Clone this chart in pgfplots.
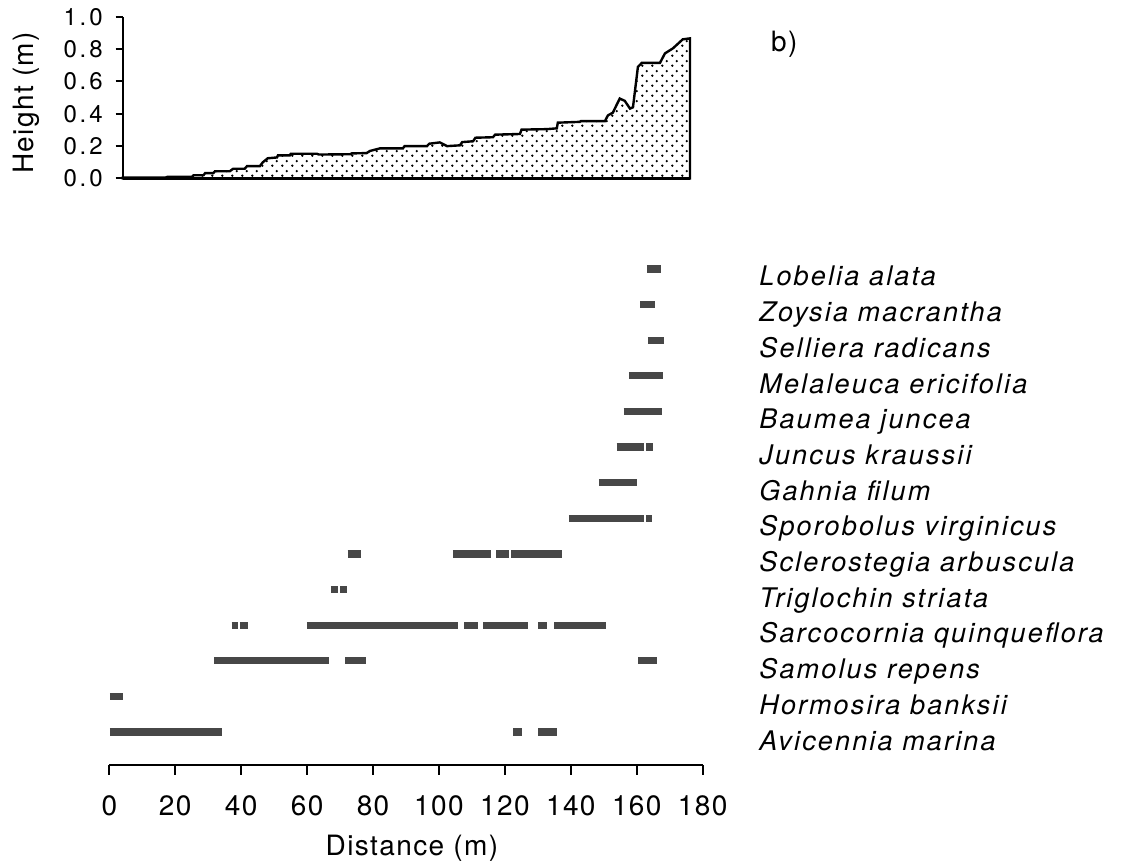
\documentclass[border=0pt]{standalone}
\usepackage{fontspec}
\setmainfont{TeX Gyre Heros}[LetterSpace=5]
\newfontfamily\spfont{TeX Gyre Heros}[LetterSpace=8]
\newfontfamily\topfont{TeX Gyre Heros}[LetterSpace=12]
\usepackage{pgfplots}
\pgfplotsset{compat=1.18}
\usetikzlibrary{patterns.meta}
\tikzdeclarepattern{
  name=sparsedots,
  type=uncolored,
  bounding box={(0pt,0pt) and (5pt,5pt)},
  tile size={(5pt,5pt)},
  code={
    \fill (1.25pt,1.25pt) circle (0.7pt);
    \fill (3.75pt,3.75pt) circle (0.7pt);
  }
}
\pgfplotsset{rng/.style={no markers, color=black!72, line width=3.6pt, line cap=butt}}
\begin{document}
\begin{tikzpicture}
\path[use as bounding box] (0,0) rectangle (563pt,434pt);
% ---------------- top profile ----------------
\begin{axis}[
  at={(61.35pt,344.75pt)}, anchor=south west, scale only axis,
  width=283.65pt, height=80.9pt,
  xmin=0, xmax=172.1, ymin=0, ymax=1,
  axis x line=bottom, axis y line=left,
  axis line style={-, line width=1.1pt},
  xtick=\empty, ytick={0,0.2,0.4,0.6,0.8,1.0},
  tick align=outside, major tick length=3.5pt,
  tick style={line width=1pt, black},
  /pgf/number format/assume math mode=true,
  /pgf/number format/fixed, /pgf/number format/fixed zerofill, /pgf/number format/precision=1,
  yticklabel style={font=\topfont\fontsize{12}{14}\selectfont, xshift=-3pt},
  clip=false,
]
\addplot[draw=black, line width=1.2pt, pattern=sparsedots, pattern color=black] coordinates {
(0,0.005) (13,0.005) (13.5,0.01) (21,0.01) (21.5,0.02) (24.5,0.02) (25,0.033) (27.5,0.033)
(28,0.045) (32.5,0.045) (33.5,0.06) (37,0.06) (37.7,0.076) (41.6,0.076) (42.5,0.10) (44,0.125)
(46.8,0.13) (47.1,0.143) (50.7,0.143) (51,0.153) (58.9,0.153) (59.5,0.148) (69,0.15) (69.5,0.155)
(74,0.157) (75,0.17) (78,0.186) (85,0.186) (85.5,0.2) (92.3,0.2) (93,0.215) (96.2,0.223)
(98.4,0.2) (102.3,0.205) (103,0.225) (106.3,0.23) (107,0.252) (112.3,0.255) (113,0.271)
(120.5,0.275) (121,0.302) (128.7,0.305) (131.7,0.31) (132,0.345) (138.7,0.35) (139,0.355)
(146.3,0.355) (147.2,0.39) (148.7,0.407) (150.2,0.47) (150.8,0.494) (152.3,0.48) (153.9,0.432)
(154.8,0.44) (156.3,0.69) (157.5,0.715) (163,0.715) (164.5,0.773) (166.9,0.804) (169.9,0.86)
(172.1,0.866) (172.1,0)
} \closedcycle;
\end{axis}
% ---------------- species ranges ----------------
\begin{axis}[
  at={(54.65pt,51.5pt)}, anchor=south west, scale only axis,
  width=296.7pt, height=256.9pt,
  xmin=0, xmax=180, ymin=0.073, ymax=14.5,
  axis x line=bottom, axis y line=none, ytick=\empty,
  axis line style={-, line width=1pt},
  xtick={0,20,...,180}, tick align=outside, major tick length=5pt,
  tick style={line width=1pt, black},
  /pgf/number format/assume math mode=true,
  xticklabel style={font=\fontsize{14}{16}\selectfont, yshift=-7pt},
  unbounded coords=jump, clip=false,
]
% Lobelia alata
\addplot[rng] coordinates {(163.1,14) (167.3,14)};
% Zoysia macrantha
\addplot[rng] coordinates {(161.0,13) (165.5,13)};
% Selliera radicans
\addplot[rng] coordinates {(163.4,12) (168.2,12)};
% Melaleuca ericifolia
\addplot[rng] coordinates {(157.6,11) (168.1,11)};
% Baumea juncea
\addplot[rng] coordinates {(156.0,10) (167.8,10)};
% Juncus kraussii
\addplot[rng] coordinates {(153.9,9) (162.2,9) (nan,9) (162.9,9) (164.9,9)};
% Gahnia filum
\addplot[rng] coordinates {(148.5,8) (160.0,8)};
% Sporobolus virginicus
\addplot[rng] coordinates {(139.4,7) (162.2,7) (nan,7) (162.8,7) (164.7,7)};
% Sclerostegia arbuscula
\addplot[rng] coordinates {(72.3,6) (76.3,6) (nan,6) (104.2,6) (115.7,6) (nan,6) (117.3,6) (121.3,6) (nan,6) (122.0,6) (137.2,6)};
% Triglochin striata
\addplot[rng] coordinates {(67.2,5) (69.3,5) (nan,5) (70.1,5) (72.1,5)};
% Sarcocornia quinqueflora
\addplot[rng] coordinates {(37.1,4) (38.9,4) (nan,4) (39.6,4) (42.0,4) (nan,4) (59.9,4) (105.9,4) (nan,4) (107.6,4) (111.9,4) (nan,4) (113.4,4) (127.1,4) (nan,4) (130.1,4) (132.7,4) (nan,4) (134.9,4) (150.6,4)};
% Samolus repens
\addplot[rng] coordinates {(31.8,3) (66.7,3) (nan,3) (71.6,3) (77.9,3) (nan,3) (160.5,3) (166.0,3)};
% Hormosira banksii
\addplot[rng] coordinates {(0.2,2) (4.2,2)};
% Avicennia marina
\addplot[rng] coordinates {(0.2,1) (34.3,1) (nan,1) (122.5,1) (125.3,1) (nan,1) (130.1,1) (135.9,1)};
\end{axis}
% ---------------- texts ----------------
\node[rotate=90, font=\fontsize{14}{16}\selectfont] at (13.35pt,382.5pt) {Height (m)};
\node[font=\fontsize{14}{16}\selectfont] at (206pt,10pt) {Distance (m)};
\node[font=\fontsize{14}{16}\selectfont, anchor=base west] at (382pt,408pt) {b)};
\begin{scope}[every node/.style={anchor=base west, inner sep=0pt, font=\spfont\itshape\fontsize{13.5}{16}\selectfont}]
\node at (379.5pt,291.00pt) {Lobelia alata};
\node at (379.5pt,273.15pt) {Zoysia macrantha};
\node at (379.5pt,255.30pt) {Selliera radicans};
\node at (379.5pt,237.45pt) {Melaleuca ericifolia};
\node at (379.5pt,219.60pt) {Baumea juncea};
\node at (379.5pt,201.75pt) {Juncus kraussii};
\node at (379.5pt,183.90pt) {Gahnia filum};
\node at (379.5pt,166.05pt) {Sporobolus virginicus};
\node at (379.5pt,148.20pt) {Sclerostegia arbuscula};
\node at (379.5pt,130.35pt) {Triglochin striata};
\node at (379.5pt,112.50pt) {Sarcocornia quinqueflora};
\node at (379.5pt,94.65pt) {Samolus repens};
\node at (379.5pt,76.80pt) {Hormosira banksii};
\node at (379.5pt,58.95pt) {Avicennia marina};
\end{scope}
\end{tikzpicture}
\end{document}
